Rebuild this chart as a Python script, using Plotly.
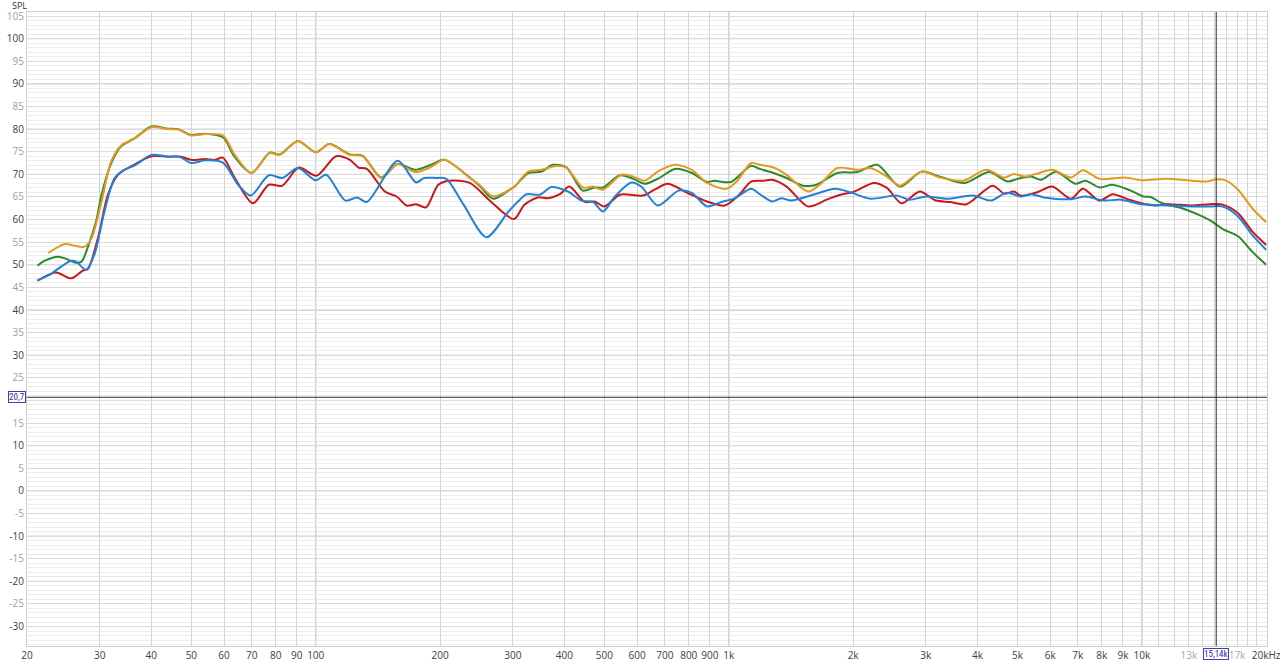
import plotly.graph_objects as go
import math

green_freq = [21.2, 22.1, 23.8, 24.9, 26.1, 27.1, 28.1, 29.4, 30.3, 32.0, 33.8, 36.5, 40.0, 43.9, 46.4,
              50, 54, 59.6, 63.7, 69.9, 77.4, 81.8, 90.6, 100, 108, 121, 130, 144, 158, 174, 189, 205,
              236, 249, 269, 295, 303, 327, 352, 375, 404, 443, 473, 496, 545, 588, 625, 673, 741, 814,
              886, 922, 1011, 1133, 1189, 1283, 1380, 1514, 1631, 1831, 2051, 2288, 2596, 2927, 3245,
              3725, 4274, 4733, 5000, 5400, 5700, 6200, 6900, 7300, 7900, 8500, 9400, 10100, 10500,
              11200, 12500, 14000, 14700, 15700, 17100, 18500, 20000]
green_spl = [49.8, 50.9, 51.8, 51.3, 50.5, 50.7, 54.0, 59.6, 65.5, 72.5, 76.2, 78.0, 80.6, 80.1, 80.0,
             78.7, 79.0, 78.2, 73.8, 70.3, 74.8, 74.4, 77.4, 74.9, 76.7, 74.4, 74.1, 69.3, 72.3, 71.0,
             72.0, 73.2, 69.3, 67.5, 64.6, 66.6, 67.3, 70.3, 70.6, 72.1, 71.6, 66.4, 67.1, 67.1, 69.8,
             69.0, 67.9, 69.0, 71.2, 70.3, 68.3, 68.6, 68.3, 71.9, 71.2, 70.3, 69.2, 67.5, 67.7, 70.3,
             70.5, 72.1, 67.3, 70.6, 69.5, 68.1, 70.5, 68.4, 69.0, 69.5, 68.8, 70.6, 67.9, 68.6, 67.1,
             67.7, 66.4, 65.1, 65.0, 63.6, 62.5, 60.7, 59.7, 57.9, 56.3, 52.9, 50.0]

orange_freq = [22.5, 24.7, 26.1, 27.6, 28.7, 30.3, 32.0, 33.8, 36.5, 40.0, 43.9, 46.4, 50, 54, 59.6,
               63.7, 69.9, 77.4, 81.8, 90.6, 100, 108, 121, 130, 144, 158, 174, 189, 205, 236, 249,
               269, 295, 303, 327, 352, 379, 404, 443, 469, 496, 550, 588, 625, 673, 741, 814, 886,
               987, 1045, 1133, 1189, 1283, 1380, 1556, 1660, 1831, 2051, 2204, 2415, 2596, 2927,
               3245, 3690, 4199, 4650, 4900, 5200, 5550, 6070, 6740, 7200, 7900, 9100, 9970, 11400,
               13200, 14300, 15200, 16000, 17100, 18500, 20000]
orange_spl = [52.6, 54.6, 54.2, 54.0, 56.0, 64.0, 72.9, 76.4, 78.0, 80.4, 80.0, 79.9, 78.6, 78.9, 78.6,
              74.3, 70.3, 74.7, 74.3, 77.4, 74.9, 76.7, 74.3, 74.0, 69.2, 72.3, 70.5, 71.5, 73.2,
              69.2, 67.7, 65.1, 66.6, 67.3, 70.6, 71.0, 71.8, 71.5, 67.1, 67.3, 66.6, 69.9, 69.5,
              68.6, 70.6, 72.1, 71.0, 68.1, 66.8, 68.4, 72.5, 72.1, 71.5, 69.9, 66.2, 67.7, 71.4,
              71.0, 71.4, 69.5, 67.5, 70.6, 69.3, 68.6, 71.0, 69.3, 70.1, 69.5, 70.1, 71.0, 69.3,
              70.9, 69.0, 69.3, 68.7, 69.0, 68.6, 68.4, 68.9, 68.6, 66.6, 62.5, 59.4]

red_freq = [21.2, 23.5, 25.6, 27.3, 28.1, 29.7, 31.4, 33.2, 35.8, 40, 43.9, 47.2, 50, 54, 57, 59.6,
            63.7, 70.5, 77, 83, 91, 100.5, 112, 121, 127, 133, 147, 157, 166, 175, 185, 198, 211,
            236, 266, 302, 320, 345, 365, 390, 411, 448, 473, 500, 545, 619, 661, 711, 794, 886,
            978, 1060, 1133, 1219, 1272, 1380, 1556, 1727, 1862, 2004, 2245, 2415, 2620, 2900, 3172,
            3430, 3760, 4354, 4650, 4900, 5100, 5600, 6070, 6740, 7200, 7900, 8500, 9300, 9970,
            10800, 11600, 13200, 14600, 15700, 17100, 18500, 20000]
red_spl = [46.5, 48.3, 47.0, 48.7, 49.1, 55.9, 65.5, 69.9, 71.8, 74.0, 73.9, 73.9, 73.2, 73.4, 73.2,
           73.7, 69.2, 63.6, 67.7, 67.5, 71.5, 69.7, 74.0, 73.2, 71.5, 71.2, 66.2, 65.1, 63.1, 63.4,
           62.7, 67.7, 68.6, 68.1, 63.9, 60.1, 63.3, 64.9, 64.7, 65.6, 67.3, 63.9, 64.0, 62.9, 65.5,
           65.3, 66.6, 67.9, 65.9, 64.0, 63.1, 65.5, 68.4, 68.6, 68.8, 67.3, 62.9, 64.4, 65.5, 66.1,
           68.1, 67.0, 63.6, 66.2, 64.2, 63.9, 63.4, 67.5, 65.7, 66.2, 65.3, 66.1, 67.3, 64.6, 66.8,
           64.2, 65.6, 64.4, 63.6, 63.1, 63.4, 63.1, 63.4, 63.3, 61.4, 57.4, 54.4]

blue_freq = [21.2, 22.7, 24.2, 25.6, 26.3, 27.8, 29.1, 30.8, 32.6, 34.4, 36.5, 40, 43.9, 46.8, 50, 54,
             59.6, 64.9, 69.6, 77, 83, 90.6, 100, 106, 118, 126, 133, 158, 175, 183, 195, 207, 228,
             259, 293, 312, 324, 349, 372, 408, 440, 469, 496, 530, 581, 614, 673, 756, 814, 886,
             960, 1033, 1133, 1189, 1272, 1339, 1418, 1600, 1810, 1987, 2204, 2548, 2734, 3005,
             3370, 3900, 4313, 4700, 5100, 5400, 5800, 6740, 7300, 8100, 8900, 9970, 11800, 13200,
             14600, 15700, 17100, 18500, 20000]
blue_spl = [46.5, 47.8, 49.6, 50.9, 50.7, 48.9, 52.2, 61.8, 69.2, 71.0, 72.0, 74.3, 73.9, 73.9, 72.5,
            73.1, 72.6, 67.7, 65.3, 69.8, 69.2, 71.4, 68.7, 69.9, 64.2, 64.9, 63.9, 73.0, 68.2, 69.2,
            69.2, 69.0, 63.3, 56.1, 61.8, 64.4, 65.6, 65.5, 67.2, 66.2, 64.2, 63.9, 61.8, 65.1, 68.2,
            67.3, 63.1, 66.4, 65.9, 62.9, 63.9, 64.7, 66.8, 65.6, 64.0, 64.7, 64.2, 65.5, 66.8, 65.9,
            64.6, 65.3, 64.4, 65.1, 64.6, 65.3, 64.2, 65.9, 65.1, 65.6, 64.9, 64.5, 65.1, 64.2, 64.4,
            63.4, 63.1, 62.9, 62.9, 62.9, 60.7, 56.6, 53.3]

cursor_freq = 15140
cursor_spl = 20.7

x_ticks = [20, 30, 40, 50, 60, 70, 80, 90, 100, 200, 300, 400, 500, 600, 700, 800, 900,
           1000, 2000, 3000, 4000, 5000, 6000, 7000, 8000, 9000, 10000,
           11000, 12000, 13000, 14000, 15000, 16000, 17000, 18000, 19000, 20000]
x_labels = ['20', '30', '40', '50', '60', '70', '80', '90', '100', '200', '300', '400', '500',
            '600', '700', '800', '900', '1k', '2k', '3k', '4k', '5k', '6k', '7k', '8k', '9k', '10k',
            '', '', '<span style="color:#a8a8a8">13k</span>', '', '', '',
            '<span style="color:#a8a8a8">17k</span>', '', '', '20kHz']
x_major = [100, 1000, 10000]

# 20 is hidden under the cursor readout in the original
y_ticks = list(range(-30, 106, 5))
y_labels = ['' if v == 20 else (str(v) if v % 10 == 0 else f'<span style="color:#a0a0a0">{v}</span>')
            for v in y_ticks]
y_major = list(range(-30, 101, 10))

colors = {'green': '#2b8a2b', 'orange': '#e49a22', 'red': '#c81818', 'blue': '#2280d8'}
narrow = 'Liberation Sans Narrow, Roboto Condensed, Roboto, sans-serif'

fig = go.Figure()

for name, fx, fy in [('green', green_freq, green_spl), ('orange', orange_freq, orange_spl),
                     ('red', red_freq, red_spl), ('blue', blue_freq, blue_spl)]:
  fig.add_trace(go.Scatter(
    x=fx, y=fy, name=name, mode='lines',
    line=dict(color=colors[name], width=2, shape='spline', smoothing=0.8),
    hoverinfo='skip'
  ))

# darker grid every 10 dB and at the decades
for v in y_major:
  fig.add_shape(type='line', xref='paper', x0=0, x1=1, yref='y', y0=v, y1=v,
                line=dict(color='#c6c6c6', width=1), layer='below')
for v in x_major:
  fig.add_shape(type='line', xref='x', x0=v, x1=v, yref='paper', y0=0, y1=1,
                line=dict(color='#959595', width=1), layer='below')

# cursor
fig.add_shape(type='line', xref='paper', x0=0, x1=1, yref='y', y0=cursor_spl, y1=cursor_spl,
              line=dict(color='#2e2e2e', width=1))
fig.add_shape(type='line', xref='x', x0=cursor_freq, x1=cursor_freq, yref='paper', y0=0, y1=1,
              line=dict(color='#2e2e2e', width=1))

box = dict(bordercolor='#3d3db8', borderwidth=1, borderpad=0, bgcolor='white',
           font=dict(color='#2c2c9c', size=9, family=narrow), showarrow=False)
fig.add_annotation(text=str(cursor_spl).replace('.', ','), xref='paper', x=0, xanchor='right',
                   xshift=-1, yref='y', y=cursor_spl, yanchor='middle', **box)
fig.add_annotation(text=f'{cursor_freq / 1000:.2f}k'.replace('.', ','), xref='x',
                   x=math.log10(cursor_freq), xanchor='center', yref='paper', y=0, yanchor='top',
                   yshift=-2, **box)
fig.add_annotation(text='SPL', xref='paper', x=0, xanchor='right', xshift=2, yref='paper', y=1,
                   yanchor='middle', yshift=7, showarrow=False,
                   font=dict(color='#333333', size=9, family='Open Sans'))

fig.update_layout(
  width=1280, height=663,
  margin=dict(l=27, r=13, t=12, b=17, pad=0, autoexpand=False),
  plot_bgcolor='white', paper_bgcolor='white',
  showlegend=False,
  hovermode=False,
  font=dict(family='Open Sans', size=10, color='#404040'),
  xaxis=dict(
    type='log', range=[math.log10(20), math.log10(20000) + 0.002],
    tickvals=x_ticks, ticktext=x_labels, tickangle=0, automargin=False,
    ticklabeloverflow='allow',
    showgrid=True, gridcolor='#d4d4d4', gridwidth=1,
    ticks='', ticklen=0,
    showline=True, linecolor='#cfcfcf', mirror=True,
    zeroline=False, tickfont=dict(size=10, color='#404040')
  ),
  yaxis=dict(
    range=[-34.3, 105.9], automargin=False,
    tickvals=y_ticks, ticktext=y_labels,
    showgrid=True, gridcolor='#dadada', gridwidth=1,
    minor=dict(dtick=1, showgrid=True, gridcolor='#ededed', gridwidth=1),
    ticks='', ticklen=0,
    showline=True, linecolor='#cfcfcf', mirror=True,
    zeroline=False, tickfont=dict(size=10, color='#404040')
  )
)

# the page body has a default 8px margin, drop it so the figure fills the window
fig.write_html("out.html", config={'displayModeBar': False},
               post_script="document.body.style.margin='0';")
